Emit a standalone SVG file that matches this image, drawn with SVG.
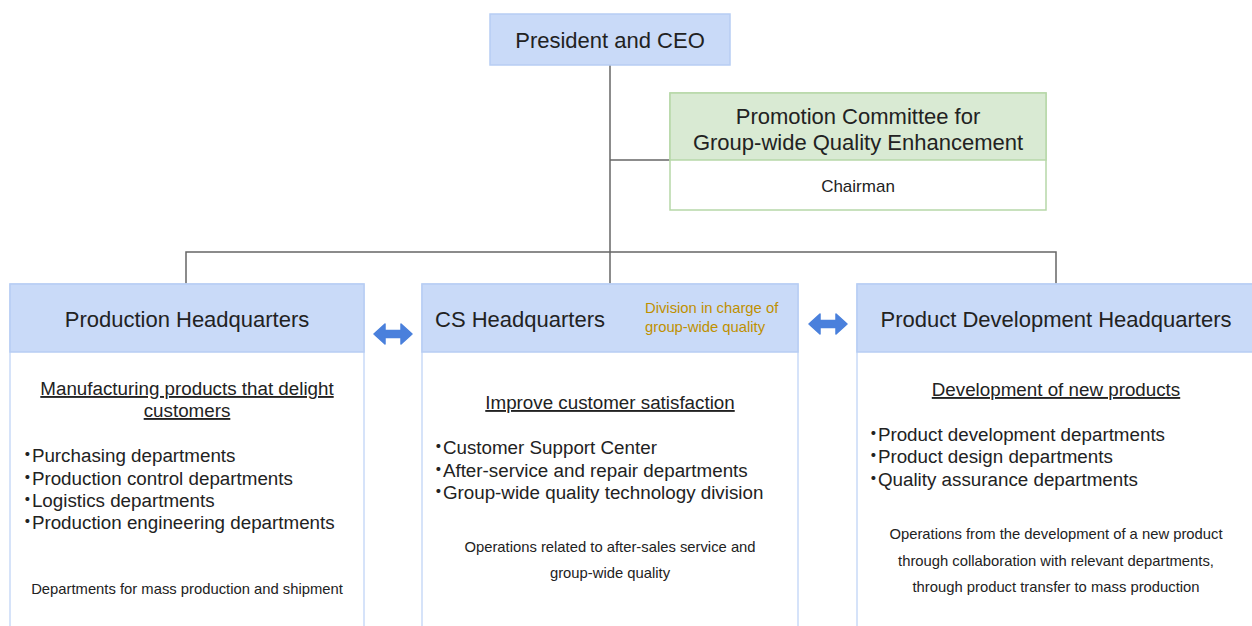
<svg xmlns="http://www.w3.org/2000/svg" width="1252" height="626" viewBox="0 0 1252 626">
<style>
text{font-family:"Liberation Sans",Arial,"Noto Sans CJK JP",sans-serif;fill:#222}
.hdr{fill:#c9daf8;stroke:#b7cdf3;stroke-width:1.5}
.body{fill:#fff;stroke:#c9daf8;stroke-width:1.5}
.t22{font-size:22px}
.t18{font-size:18.8px}
.t14{font-size:14.8px}
.c{text-anchor:middle}
.u{text-decoration:underline}
.d{letter-spacing:-4.9px}
.conn{fill:none;stroke:#666;stroke-width:1.5}
.arr{fill:#4a80dc;stroke:#4a80dc;stroke-width:1.5;stroke-linejoin:round}
.gold{fill:#bf9000}
</style>
<g id="connectors">
<path class="conn" d="M610 65 V284"/>
<path class="conn" d="M610 160 H670"/>
<path class="conn" d="M186 284 V252 H1056 V284"/>
<polygon class="arr" points="374,334 385,324 385,330.5 401,330.5 401,324 412,334 401,344 401,337.5 385,337.5 385,344"/>
<polygon class="arr" points="809,324 820,314 820,320.5 836,320.5 836,314 847,324 836,334 836,327.5 820,327.5 820,334"/>
</g>
<g id="ceo">
<rect class="hdr" x="490" y="14" width="240" height="51"/>
<text class="t22 c" x="610" y="48">President and CEO</text>
</g>
<g id="committee">
<rect x="670" y="93" width="376" height="117" fill="#fff" stroke="#b6d7a8" stroke-width="1.5"/>
<rect x="670" y="93" width="376" height="67" fill="#d9ead3" stroke="#b6d7a8" stroke-width="1.5"/>
<text class="t22 c" x="858" y="124">Promotion Committee for</text>
<text class="t22 c" x="858" y="150">Group-wide Quality Enhancement</text>
<text class="c" x="858" y="192" style="font-size:17px">Chairman</text>
</g>
<g id="production">
<rect class="body" x="10" y="284" width="354" height="360"/>
<rect class="hdr" x="10" y="284" width="354" height="68"/>
<text class="t22 c" x="187" y="327">Production Headquarters</text>
<text class="t18 c u" x="187" y="395">Manufacturing products that delight</text>
<text class="t18 c u" x="187" y="417">customers</text>
<text class="t18" x="18" y="462"><tspan class="d">・</tspan>Purchasing departments</text>
<text class="t18" x="18" y="485"><tspan class="d">・</tspan>Production control departments</text>
<text class="t18" x="18" y="507"><tspan class="d">・</tspan>Logistics departments</text>
<text class="t18" x="18" y="529"><tspan class="d">・</tspan>Production engineering departments</text>
<text class="t14 c" x="187" y="594">Departments for mass production and shipment</text>
</g>
<g id="cs">
<rect class="body" x="422" y="284" width="376" height="360"/>
<rect class="hdr" x="422" y="284" width="376" height="68"/>
<text class="t22" x="435" y="327">CS Headquarters</text>
<text class="t14 gold" x="645" y="313">Division in charge of</text>
<text class="t14 gold" x="645" y="332">group-wide quality</text>
<text class="t18 c u" x="610" y="409">Improve customer satisfaction</text>
<text class="t18" x="429" y="454"><tspan class="d">・</tspan>Customer Support Center</text>
<text class="t18" x="429" y="477"><tspan class="d">・</tspan>After-service and repair departments</text>
<text class="t18" x="429" y="499"><tspan class="d">・</tspan>Group-wide quality technology division</text>
<text class="t14 c" x="610" y="552">Operations related to after-sales service and</text>
<text class="t14 c" x="610" y="578">group-wide quality</text>
</g>
<g id="productdev">
<rect class="body" x="857" y="284" width="420" height="360"/>
<rect class="hdr" x="857" y="284" width="420" height="68"/>
<text class="t22 c" x="1056" y="327">Product Development Headquarters</text>
<text class="t18 c u" x="1056" y="396">Development of new products</text>
<text class="t18" x="864" y="441"><tspan class="d">・</tspan>Product development departments</text>
<text class="t18" x="864" y="463"><tspan class="d">・</tspan>Product design departments</text>
<text class="t18" x="864" y="486"><tspan class="d">・</tspan>Quality assurance departments</text>
<text class="t14 c" x="1056" y="539">Operations from the development of a new product</text>
<text class="t14 c" x="1056" y="566">through collaboration with relevant departments,</text>
<text class="t14 c" x="1056" y="592">through product transfer to mass production</text>
</g>
</svg>
